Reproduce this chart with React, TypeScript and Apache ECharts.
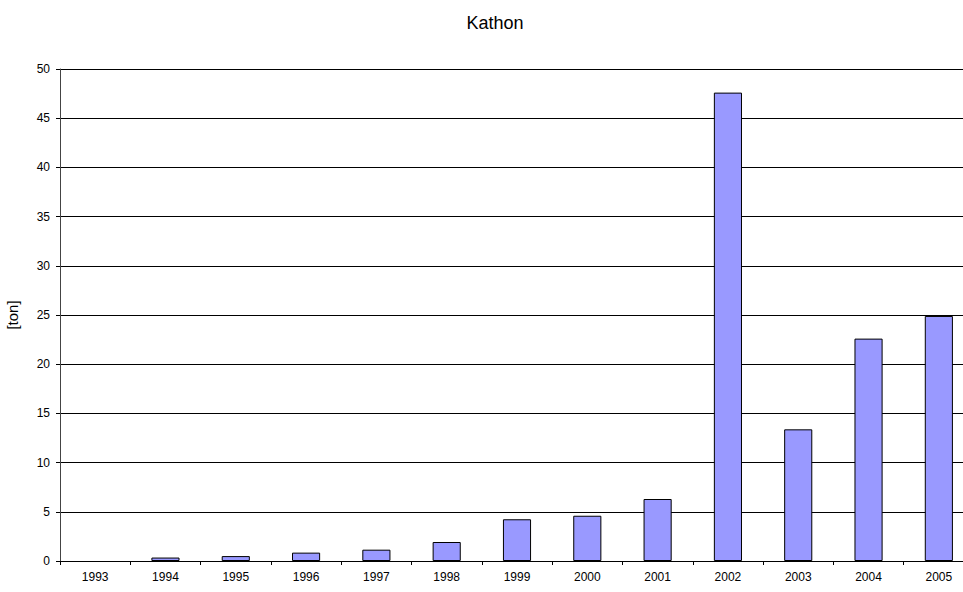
import React, { useEffect, useRef } from "react";
import * as echarts from "echarts";

const years = ["1993","1994","1995","1996","1997","1998","1999","2000","2001","2002","2003","2004","2005"];
const values = [0, 0.35, 0.5, 0.85, 1.15, 1.93, 4.24, 4.6, 6.3, 47.6, 13.38, 22.6, 24.9];

const FONT = "Liberation Sans, Arial, sans-serif";

export default function App() {
  const ref = useRef<HTMLDivElement>(null);
  useEffect(() => {
    const chart = echarts.init(ref.current!, null, { renderer: "svg" });
    chart.setOption({
      animation: false,
      backgroundColor: "#fff",
      textStyle: { fontFamily: FONT },
      title: {
        text: "Kathon",
        left: 490,
        top: 9,
        textAlign: "center",
        textStyle: { fontSize: 18, fontWeight: "normal", color: "#000", fontFamily: FONT },
      },
      grid: {
        left: 60,
        width: 914,
        top: 69,
        height: 492,
        containLabel: false,
        outerBoundsMode: "none",
      },
      xAxis: {
        type: "category",
        data: years,
        axisLine: { lineStyle: { color: "#000", width: 1 } },
        axisTick: { show: true, length: 4, alignWithLabel: false, lineStyle: { color: "#000" } },
        axisLabel: { color: "#000", fontSize: 12, margin: 10, fontFamily: FONT },
      },
      yAxis: {
        type: "value",
        min: 0,
        max: 50,
        interval: 5,
        name: "[ton]",
        nameLocation: "middle",
        nameGap: 40,
        nameRotate: 90,
        nameTextStyle: { color: "#000", fontSize: 15, fontFamily: FONT },
        axisLine: { show: true, lineStyle: { color: "#444", width: 1 } },
        axisTick: { show: true, length: 4, lineStyle: { color: "#000" } },
        axisLabel: { color: "#000", fontSize: 12, margin: 10, fontFamily: FONT },
        splitLine: { show: true, lineStyle: { color: "#000", width: 1 } },
      },
      series: [
        {
          type: "bar",
          data: values.map((v) => (v === 0 ? "-" : v)),
          barWidth: "40%",
          itemStyle: { color: "#9999FF", borderColor: "#000", borderWidth: 1 },
        },
      ],
    });
    return () => chart.dispose();
  }, []);
  return <div ref={ref} style={{ width: 963, height: 592, position: "absolute", left: 0, top: 0 }} />;
}
